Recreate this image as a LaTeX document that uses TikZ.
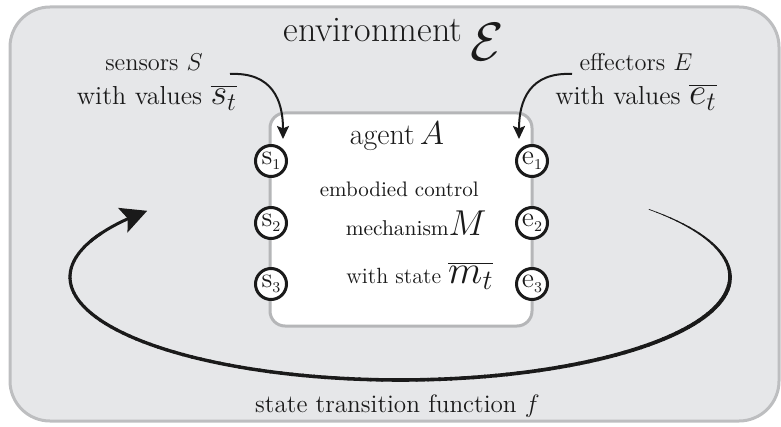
\RequirePackage{fix-cm}
\documentclass[tikz,border=0pt]{standalone}
\usetikzlibrary{arrows.meta}
\definecolor{envfill}{HTML}{E6E7E9}
\definecolor{envline}{HTML}{BDBEC0}
\definecolor{agline}{HTML}{B5B6B8}
\definecolor{ink}{HTML}{1A1A1A}
\newcommand{\portlab}[2]{{\fontsize{14}{15}\selectfont #1\raisebox{-2.6pt}{\fontsize{7.5}{8}\selectfont #2}}}
\begin{document}
\begin{tikzpicture}[x=0.5pt,y=-0.5pt,
  port/.style={circle,draw=ink,line width=1.5pt,fill=white,minimum size=15.5pt,inner sep=0pt,text=ink},
  lbl/.style={anchor=base,font=\fontsize{12.2}{14}\selectfont,text=ink},
  txt/.style={inner sep=0pt,text=ink},
  feed/.style={draw=ink,line width=1pt,-{Stealth[length=6.5pt,width=6pt,inset=1.2pt]}},
  loopseg/.style={draw=ink,line cap=round}
]
\useasboundingbox (0,0) rectangle (781,427);
% environment
\path[draw=envline,fill=envfill,line width=1.5pt,rounded corners=20pt] (10,7) rectangle (779,421);
\node[txt,anchor=base west] (envlabel) at (283,42) {\fontsize{18}{20}\selectfont environment};
\node[txt,anchor=base west] (envsym) at (470,61) {\fontsize{27}{30}\selectfont$\mathcal{E}$};
% agent box
\node[draw=agline,fill=white,line width=1.5pt,rounded corners=7.5pt,minimum width=131pt,minimum height=106.5pt,inner sep=0pt] (agent) at (401,219.5) {};
\node[txt,anchor=base] (aglabel) at (397,145) {\fontsize{15}{17}\selectfont agent\,{\fontsize{16.5}{17}\selectfont$A$}};
\node[txt,anchor=base east] (emb) at (479,197) {\fontsize{10.5}{12}\selectfont embodied control};
\node[txt,anchor=base east] (mech) at (487,235) {\fontsize{10.7}{12}\selectfont mechanism{\fontsize{18}{20}\selectfont$M$}};
\node[txt,anchor=base west] (mstate) at (346,283) {\fontsize{11}{13}\selectfont with state {\fontsize{20}{22}\selectfont$\overline{m_t}$}};
% ports
\node[port] (s1) at (271,161) {\portlab{s}{1}};
\node[port] (s2) at (271,223) {\portlab{s}{2}};
\node[port] (s3) at (271,284) {\portlab{s}{3}};
\node[port] (e1) at (532,161) {\portlab{e}{1}};
\node[port] (e2) at (532,223) {\portlab{e}{2}};
\node[port] (e3) at (532,284) {\portlab{e}{3}};
% sensor / effector labels
\node[lbl] (sens) at (154,71) {sensors $S$};
\node[lbl,font=\fontsize{13}{15}\selectfont] (sensv) at (157,105) {with values {\fontsize{18}{20}\selectfont$\overline{s_t}$}};
\node[lbl] (eff) at (636,71) {effectors $E$};
\node[lbl,font=\fontsize{13}{15}\selectfont] (effv) at (636,105) {with values {\fontsize{19}{21}\selectfont$\overline{e_t}$}};
\coordinate (sa) at (230,74);
\coordinate (sb) at (283,139);
\coordinate (ea) at (572,74);
\coordinate (eb) at (519,139);
\draw[feed] (sa) .. controls (272,72) and (283,100) .. (sb);
\draw[feed] (ea) .. controls (530,72) and (519,100) .. (eb);
% state transition loop
\foreach \a in {-41,-39,...,203} {
  \pgfmathsetmacro\w{\a<5 ? 0.35+(\a+41)*0.0359 : 2-(\a-5)*0.0025}
  \draw[loopseg,line width=\w pt] plot[domain=\a:\a+2.2,samples=3] ({400+330*cos(\x)},{277+103*sin(\x)});
}
\draw[ink,line width=1.5pt,-{Stealth[length=13pt,width=13pt,inset=2.5pt]}] plot[domain=200:220,samples=12] ({400+330*cos(\x)},{277+103*sin(\x)});
\node[lbl,font=\fontsize{12.6}{14}\selectfont] (stf) at (397.5,412) {state transition function $f$};
\end{tikzpicture}
\end{document}
